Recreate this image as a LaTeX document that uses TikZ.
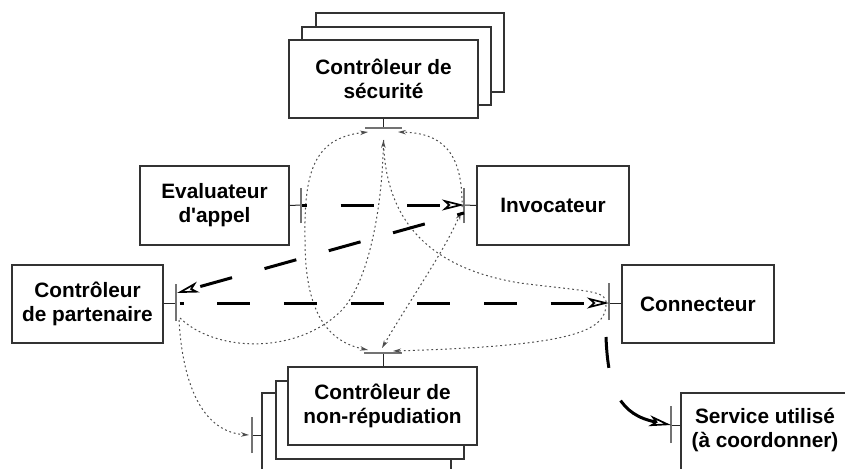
\documentclass[tikz,border=0pt]{standalone}
\usepackage{fontspec}
\setmainfont{Liberation Sans}
\usetikzlibrary{arrows.meta}
\begin{document}
\begin{tikzpicture}[x=1pt,y=-1pt,
  box/.style={draw=black!80, line width=1.2pt, fill=white, rectangle, inner sep=0pt},
  lbl/.style={font=\bfseries\fontsize{20.8}{24}\selectfont, align=center, text=black, inner sep=0pt},
  portbar/.style={draw=black!55, line width=1.2pt},
  stub/.style={draw=black!85, line width=1pt},
  smalltip/.tip={Stealth[open,length=8pt,width=4.5pt,line width=1pt]},
  heavy/.style={line width=3pt, dash pattern=on 33pt off 33.7pt,
     -{Stealth[open,length=22pt,width=11pt,inset=6pt,line width=1.7pt]}},
  dotline/.style={draw=black!70, line width=1pt, dash pattern=on 1.8pt off 2.8pt}
]
\useasboundingbox (0,0) rectangle (845,468);
\fill[white] (0,0) rectangle (845,468);
\clip (0,0) rectangle (845,468);

% ---- Controleur de securite (stacked)
\node[box, minimum width=188pt, minimum height=79pt] (sec3) at (410,52.5) {};
\node[box, minimum width=189pt, minimum height=78pt] (sec2) at (396.5,66) {};
\node[box, minimum width=189pt, minimum height=78pt] (sec) at (383.5,79) {};
\node[lbl] (secT) at (383.5,79) {Contrôleur de\\sécurité};

% ---- Evaluateur d'appel
\node[box, minimum width=149pt, minimum height=79pt] (eval) at (214.5,205.5) {};
\node[lbl] (evalT) at (214.5,205.5) {Evaluateur\\d\textquotesingle appel};

% ---- Invocateur
\node[box, minimum width=152pt, minimum height=79pt] (inv) at (553,205.5) {};
\node[lbl] (invT) at (553,205.5) {Invocateur};

% ---- Controleur de partenaire
\node[box, minimum width=151pt, minimum height=78pt] (part) at (87.5,304) {};
\node[lbl] (partT) at (87.5,304) {Contrôleur\\de partenaire};

% ---- Connecteur
\node[box, minimum width=152pt, minimum height=78pt] (conn) at (698,304) {};
\node[lbl] (connT) at (698,304) {Connecteur};

% ---- Controleur de non-repudiation (stacked)
\node[box, minimum width=189pt, minimum height=78pt] (nr3) at (356.5,432) {};
\node[box, minimum width=188pt, minimum height=78pt] (nr2) at (370,420) {};
\node[box, minimum width=189pt, minimum height=78pt] (nr) at (382.5,406) {};
\node[lbl] (nrT) at (382.5,406) {Contrôleur de\\non-répudiation};

% ---- Service utilise
\node[box, minimum width=168pt, minimum height=78pt] (serv) at (765,432) {};
\node[lbl] (servT) at (765,430) {Service utilisé\\(à coordonner)};

% ---- ports
\coordinate (secP) at (383.5,128);
\coordinate (secPL) at (365,128);
\coordinate (secPR) at (402,128);
\draw[stub] (sec.south) -- (secP);
\draw[portbar] (secPL) -- (secPR);

\coordinate (evalP) at (301,205);
\draw[stub] (eval.east) -- (evalP);
\draw[portbar] ([yshift=-18pt]evalP) -- ([yshift=17pt]evalP);

\coordinate (invP) at (464,205);
\draw[stub] (inv.west) -- (invP);
\draw[portbar] ([yshift=-18pt]invP) -- ([yshift=17pt]invP);

\coordinate (partP) at (176,303);
\draw[stub] (part.east |- partP) -- (partP);
\draw[portbar] ([yshift=-18pt]partP) -- ([yshift=19pt]partP);

\coordinate (connP) at (609,303);
\draw[stub] (conn.west |- connP) -- (connP);
\draw[portbar] ([yshift=-17pt]connP) -- ([yshift=20pt]connP);

\coordinate (servP) at (671,425);
\draw[stub] (serv.west |- servP) -- (servP);
\draw[portbar] ([yshift=-18pt]servP) -- ([yshift=19pt]servP);

\coordinate (nrP) at (383,353);
\coordinate (nrPL) at (364,353);
\coordinate (nrPR) at (402,353);
\draw[stub] (nr.north -| nrP) -- (nrP);
\draw[portbar] (nrPL) -- (nrPR);

\coordinate (nrLP) at (252,435);
\draw[stub] (nr3.west |- nrLP) -- (nrLP);
\draw[portbar] ([yshift=-18pt]nrLP) -- ([yshift=18pt]nrLP);

% ---- dotted connectors
\coordinate (secInL) at (368,132);
\coordinate (secInR) at (398,132);
\coordinate (secInC) at (383.5,140);
\coordinate (nrInL) at (368,350);
\coordinate (nrInR) at (393,351);
\coordinate (nrInC) at (382,348);
\coordinate (invIn) at (461,212);
\coordinate (invTop) at (462,207);
\coordinate (partD1) at (180,318);
\coordinate (partD2) at (179,320);
\coordinate (connLoop) at (606,305);
\coordinate (nrLIn) at (249,435);

\draw[dotline, {smalltip}-{smalltip}] (nrInL) .. controls (320,340) and (305,300) .. (305,240)
   .. controls (304,175) and (312,138) .. (secInL);
\draw[dotline, -{smalltip}] (invTop) .. controls (463,150) and (440,133) .. (secInR);
\draw[dotline, {smalltip}-{smalltip}] (nrInC) .. controls (410,300) and (445,250) .. (invIn);
\draw[dotline, -{smalltip}] (partD1) .. controls (215,352) and (295,355) .. (340,312)
   .. controls (368,285) and (382,210) .. (secInC);
\draw[dotline, -{smalltip}] (secInC) .. controls (385,230) and (440,270) .. (520,283)
   .. controls (590,292) and (608,290) .. (connLoop)
   .. controls (605,332) and (570,346) .. (nrInR);
\draw[dotline, -{smalltip}] (partD2) .. controls (183,390) and (205,432) .. (nrLIn);

% ---- heavy dashed connectors
\coordinate (evalOut) at (302,205);
\draw[heavy, dash phase=28pt] (evalOut) -- (invP);
\coordinate (invOut) at (464,213);
\coordinate (partIn) at (177,293);
\draw[heavy, dash phase=26pt] (invOut) -- (partIn);
\coordinate (partOut) at (179.5,303);
\draw[heavy, dash phase=29pt] (partOut) -- (connP);
\coordinate (connOut) at (606,337);
\draw[heavy, dash pattern=on 31pt off 35pt on 300pt off 0pt, dash phase=0pt]
   (connOut) .. controls (608,390) and (620,415) .. (servP);
\end{tikzpicture}
\end{document}
